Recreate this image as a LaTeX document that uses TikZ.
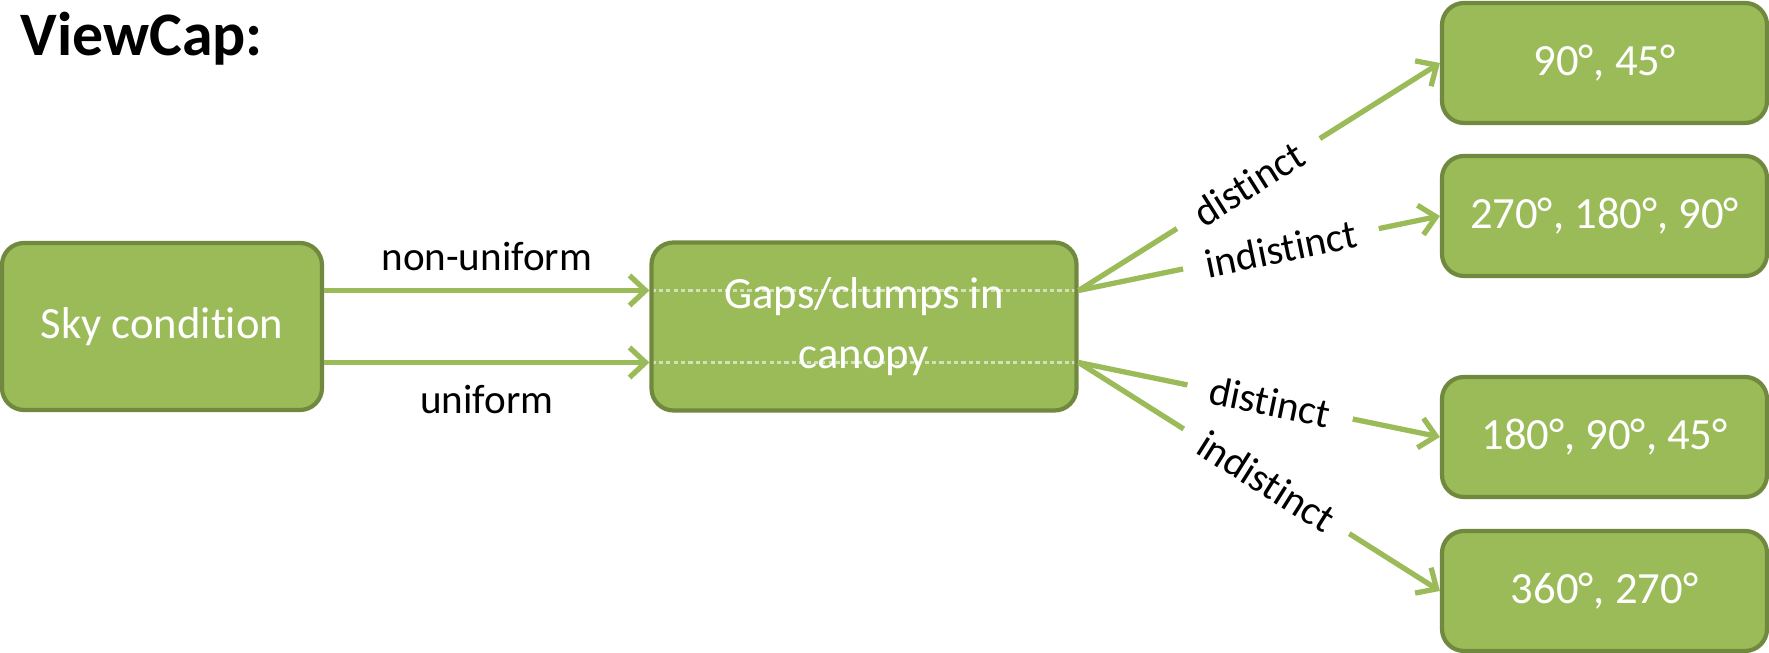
\documentclass[tikz,border=0pt]{standalone}
\usepackage{fontspec}
\setmainfont{Carlito}[RawFeature={-liga;-clig;-calt;-dlig}]
\usetikzlibrary{arrows.meta,
                positioning}
\definecolor{leaf}{HTML}{9BBB59}
\definecolor{leafdark}{HTML}{71893F}
\definecolor{leafpale}{HTML}{D3E1B8}

\begin{document}
\begin{tikzpicture}[
    box/.style={draw=leafdark, line width=1.2pt, fill=leaf, rounded corners=2.2mm,
                text=white, align=center, font=\fontsize{12.7}{17.2}\selectfont},
    outcome/.style={box, minimum width=3.25cm, minimum height=1.2cm},
    branch/.style={draw=leaf, line width=1.5pt, -{Straight Barb[length=1.6mm,width=3mm]}},
    choice/.style={font=\fontsize{11.7}{14}\selectfont, text=black},
    gapline/.style={draw=leafpale, line width=1pt, dash pattern=on 1.2pt off 0.9pt}]
    \useasboundingbox (0,0) rectangle (17.69,6.53);
    \node [anchor=base west, inner sep=0, font=\bfseries\fontsize{17.6}{21}\selectfont] (title) at (0.2,5.97) {ViewCap:};
    \node [box, minimum width=3.2cm, minimum height=1.67cm] (sky) at (1.62,3.265) {Sky condition};
    \node [box, minimum width=4.25cm, minimum height=1.68cm,
           path picture={\draw [gapline]
               ([yshift=0.36cm]path picture bounding box.west) -- ([yshift=0.36cm]path picture bounding box.east)
               ([yshift=-0.36cm]path picture bounding box.west) -- ([yshift=-0.36cm]path picture bounding box.east);}]
          (gaps) at (8.64,3.265) {Gaps/clumps in\\canopy};
    \node [outcome] (r1) at (16.045,5.90) {90°, 45°};
    \node [outcome] (r2) at (16.045,4.37) {270°, 180°, 90°};
    \node [outcome] (r3) at (16.045,2.16) {180°, 90°, 45°};
    \node [outcome] (r4) at (16.045,0.62) {360°, 270°};
    \draw [branch] ([yshift=0.36cm]sky.east) -- ([yshift=0.36cm]gaps.west)
        node [choice, midway, yshift=0.34cm] {non-uniform};
    \draw [branch] ([yshift=-0.36cm]sky.east) -- ([yshift=-0.36cm]gaps.west)
        node [choice, midway, yshift=-0.37cm] {uniform};
    \draw [branch] ([yshift=0.36cm]gaps.east) -- (r1.west)
        node [choice, pos=0.47, sloped, fill=white, inner xsep=2.3mm] {distinct};
    \draw [branch] ([yshift=0.36cm]gaps.east) -- (r2.west)
        node [choice, pos=0.56, sloped, fill=white, inner xsep=2.3mm] {indistinct};
    \draw [branch] ([yshift=-0.36cm]gaps.east) -- (r3.west)
        node [choice, pos=0.53, sloped, fill=white, inner xsep=2.3mm] {distinct};
    \draw [branch] ([yshift=-0.36cm]gaps.east) -- (r4.west)
        node [choice, pos=0.52, sloped, fill=white, inner xsep=2.1mm] {indistinct};
\end{tikzpicture}
\end{document}
